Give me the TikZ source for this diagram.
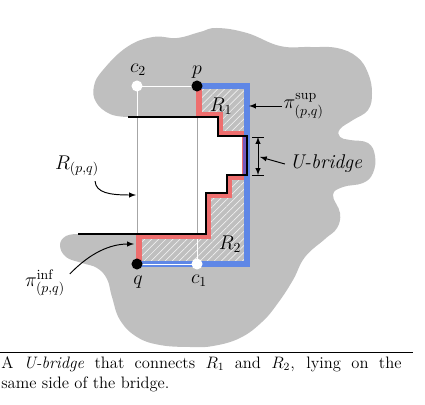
\documentclass[tikz,border=0pt]{standalone}
\usepackage{amsmath, amssymb}
\usepackage{tikz}
\usetikzlibrary{patterns.meta}
\tikzset{>=latex}
\colorlet{blobgray}{black!25}
\colorlet{linegray}{black!35}
\definecolor{myred}{RGB}{238,110,110}
\definecolor{myblue}{RGB}{95,135,230}
\definecolor{mypurple}{RGB}{115,90,190}
\tikzstyle{thickpath}=[line width=4pt,line join=miter]
\tikzstyle{guide}=[line width=0.7pt]
\tikzstyle{pointer}=[->,line width=0.7pt]
\tikzstyle{dot}=[circle,inner sep=0,minimum size=8pt]
\tikzstyle{hatch}=[pattern={Lines[angle=45,distance=3.6pt,line width=0.5pt]},pattern color=white!75!blobgray]
\def\dimtick#1{\draw[line width=0.7pt] (#1) ++(-6,0) --++ (12,0)}

\begin{document}
\begin{tikzpicture}[x=0.7246pt,y=-0.7246pt]
  \useasboundingbox (0,0) rectangle (425,405);
  \coordinate (p) at (197,86);
  \coordinate (q) at (137,264);
  \coordinate (c1) at (197,264);
  \coordinate (c2) at (137,86);
  \coordinate (NE) at (247,86);
  \coordinate (SE) at (247,264);
  \coordinate (s1) at (197,117);
  \coordinate (s2) at (218,117);
  \coordinate (s3) at (218,136);
  \coordinate (s4) at (247,136);
  \coordinate (s5) at (247,175);
  \coordinate (s6) at (227,175);
  \coordinate (s7) at (227,193);
  \coordinate (s8) at (206,193);
  \coordinate (s9) at (206,234);
  \coordinate (s10) at (137,234);
  \coordinate (top) at (128,117);
  \coordinate (bot) at (78,234);
  \fill[blobgray] (top) -- plot[smooth,tension=0.7] coordinates {
      (128,117) (110,114) (96,102) (94,86) (103,70) (127,47) (153,37) (177,38)
      (200,32) (217,28) (247,33) (280,46) (310,47) (337,48) (357,57) (368,73)
      (372,93) (368,110) (353,120) (340,129) (340,137) (350,140) (368,143)
      (375,156) (373,173) (363,183) (343,187) (333,195) (340,213) (337,228)
      (325,239) (305,257) (293,280) (278,303) (262,322) (240,338) (213,346)
      (190,347) (160,345) (137,337) (120,320) (112,297) (107,279) (97,268)
      (82,263) (66,257) (60,245) (66,236) (78,234)}
    -- (s9) -- (s8) -- (s7) -- (s6) -- (s5) -- (s4) -- (s3) -- (s2) -- cycle;
  \fill[hatch] (p) -- (NE) -- (s4) -- (s3) -- (s2) -- (s1) -- cycle;
  \fill[hatch] (s5) -- (SE) -- (q) -- (s10) -- (s9) -- (s8) -- (s7) -- (s6) -- cycle;
  \draw[guide,white] (c2) -- (p);
  \draw[guide,white] (c2) -- (c2 |- top);
  \draw[guide,linegray] (c2 |- top) -- (s10);
  \draw[guide,linegray] (s1) -- (c1 |- s9);
  \draw[guide,white] (c1 |- s9) -- (c1);
  \draw[thickpath,myred]
    (199,86) -- (199,115) -- (220,115) -- (220,134) -- (245,134) -- (245,177)
    -- (229,177) -- (229,195) -- (208,195) -- (208,236) -- (139,236) -- (139,264);
  \draw[thickpath,myblue] (p) -- (NE) -- (SE) -- (q);
  \draw[line width=3.5pt,mypurple] (245.5,136) -- (245.5,175);
  \draw[line width=1pt]
    (top) -- (s2) -- (s3) -- (s4) -- (s5) -- (s6) -- (s7) -- (s8) -- (s9) -- (bot);
  \draw[guide,white] (q) -- (c1);
  \node[dot,fill=black] (p') at (p) {};
  \node[dot,fill=black] (q') at (q) {};
  \node[dot,fill=white] (c1') at (c1) {};
  \node[dot,fill=white] (c2') at (c2) {};
  \node[font=\Large] (plabel) at (197,72) {$p$};
  \node[font=\Large] (qlabel) at (138,282) {$q$};
  \node[font=\Large] (c1label) at (199,281) {$c_1$};
  \node[font=\Large] (c2label) at (138,70) {$c_2$};
  \node[font=\Large] (R1) at (221,106) {$R_1$};
  \node[font=\Large] (R2) at (230,244) {$R_2$};
  % labels with pointers
  \coordinate (supend) at (249,106);
  \coordinate (dimtop) at (258,137);
  \coordinate (dimbot) at (258,175);
  \coordinate (dimmid) at (260,157);
  \coordinate (rpqend) at (136,195);
  \coordinate (infend) at (134,244);
  \node[font=\Large,anchor=west,inner sep=1pt] (pisup) at (282,106) {$\pi^{\sup}_{(p,q)}$};
  \node[font=\Large] (ubridge) at (326,164) {\textit{U-bridge}};
  \node[font=\Large] (rpq) at (77,166) {$R_{(p,q)}$};
  \node[font=\Large] (piinf) at (45,283) {$\pi^{\inf}_{(p,q)}$};
  \draw[pointer] (pisup) -- (supend);
  \draw[<->,line width=0.7pt] (dimtop) -- (dimbot);
  \dimtick{dimtop};
  \dimtick{dimbot};
  \draw[pointer] (ubridge.west) -- (dimmid);
  \draw[pointer] (rpq.-40) .. controls (96,193) and (110,195) .. (rpqend);
  \draw[pointer] (piinf.20) .. controls (90,253) and (110,244) .. (infend);
  % caption
  \draw[line width=0.7pt] (0,352) -- (413,352);
  \node[anchor=north west,inner sep=0,text width=290pt,align=justify,
        font=\fontsize{12}{14.5}\selectfont] (caption) at (1,356)
    {A \emph{U-bridge} that connects $R_1$ and $R_2$, lying on the\linebreak
     same side of the bridge.};
\end{tikzpicture}
\end{document}
